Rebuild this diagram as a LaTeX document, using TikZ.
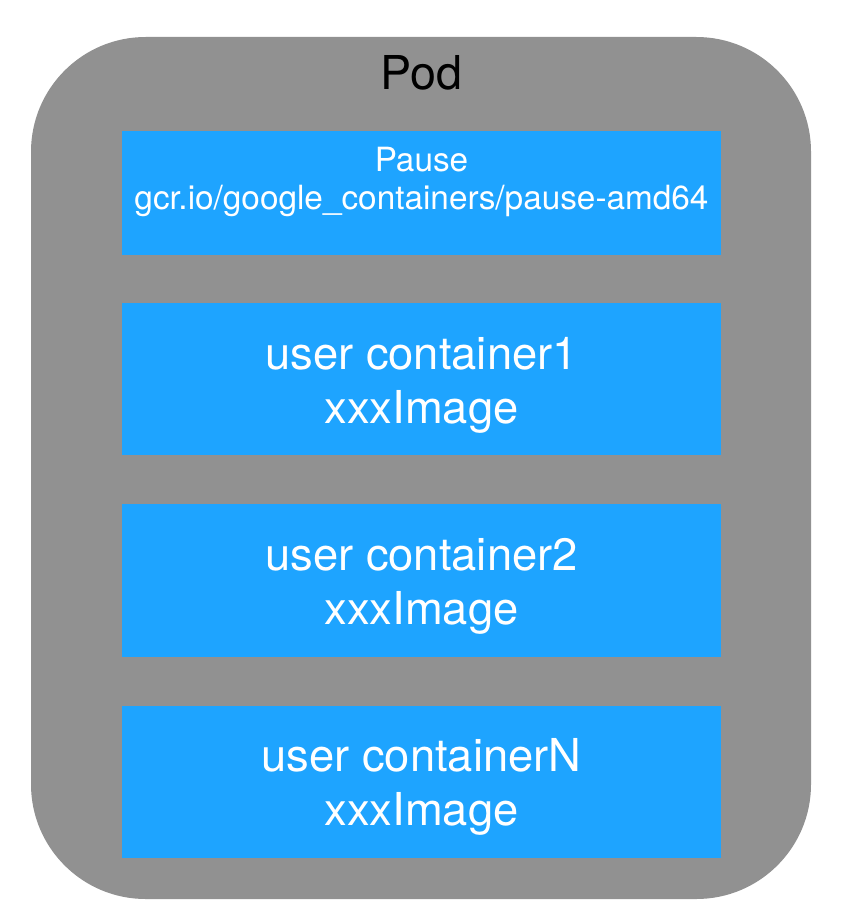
\documentclass[tikz,border=0pt]{standalone}
\usepackage{fontspec}
\setmainfont{TeX Gyre Heros}
\usetikzlibrary{positioning}
\definecolor{podgray}{HTML}{919191}
\definecolor{ctrblue}{HTML}{1EA4FF}

\begin{document}
\begin{tikzpicture}[
      x=0.75pt, y=-0.75pt,
      every node/.style={inner sep=0pt, outer sep=0pt},
      podbox/.style={fill=podgray, rounded corners=86pt, minimum width=585pt, minimum height=646.5pt},
      podlabel/.style={font=\fontsize{35pt}{40pt}\selectfont, text=black},
      ctr/.style={fill=ctrblue, minimum width=449.25pt},
      ctrtext/.style={text=white, align=center},
      bigtext/.style={ctrtext, font=\fontsize{34pt}{40.5pt}\selectfont},
      smalltext/.style={ctrtext, font=\fontsize{25pt}{28pt}\selectfont},
    ]
    \useasboundingbox (0,0) rectangle (840,916);
    \node[podbox] (pod) at (421,468) {};
    \node[podlabel] (podname) at (421,73) {Pod};
    % containers
    \node[ctr, minimum height=93pt] (pause) at (421.5,193) {};
    \node[smalltext] (pausetxt) at (421.5,182) {Pause\\gcr.io/google\_containers/pause-amd64};
    \node[ctr, minimum height=114pt] (user1) at (421.5,379) {};
    \node[bigtext] (user1txt) at (421.5,385) {user container1\\xxxImage};
    \node[ctr, minimum height=114.75pt] (user2) at (421.5,580.5) {};
    \node[bigtext] (user2txt) at (421.5,586) {user container2\\xxxImage};
    \node[ctr, minimum height=114pt] (userN) at (421.5,782) {};
    \node[bigtext] (userNtxt) at (421.5,787) {user containerN\\xxxImage};
  \end{tikzpicture}
\end{document}
